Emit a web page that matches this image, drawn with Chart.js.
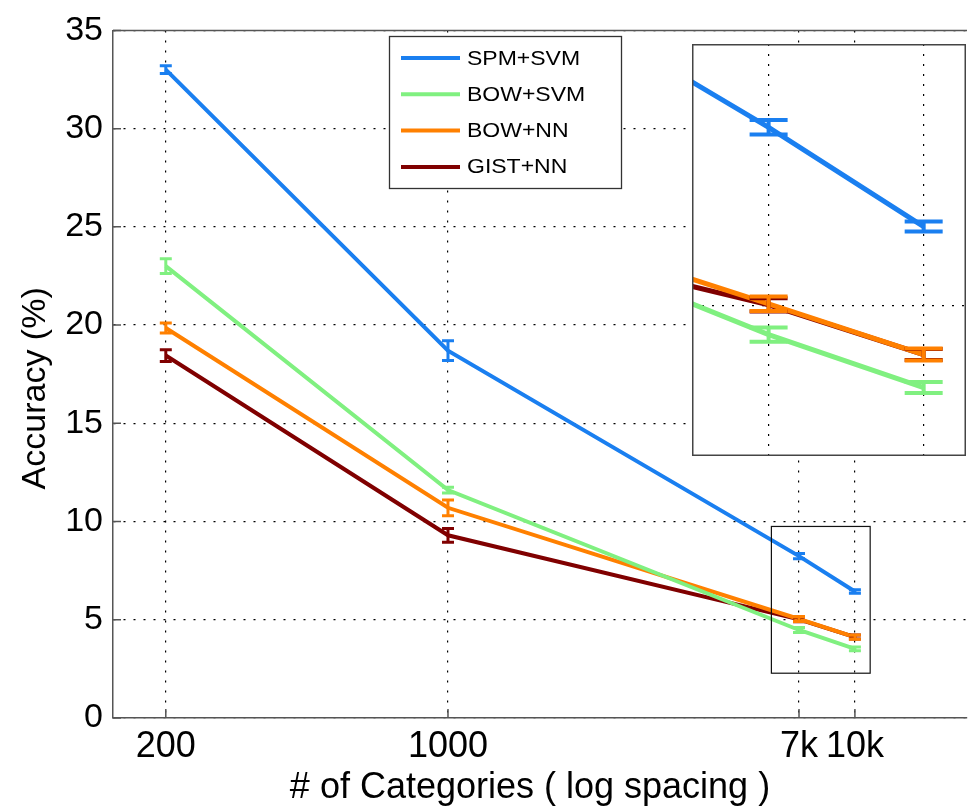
<!DOCTYPE html>
<html>
<head>
<meta charset="utf-8">
<script src="https://cdn.jsdelivr.net/npm/chart.js@4.4.0/dist/chart.umd.min.js"></script>
<style>
  body { margin: 0; background: #fff; }
  #wrap { position: relative; width: 969px; height: 806px; overflow: hidden; }
  #zoomBox { position: absolute; left: 692px; top: 44px; width: 274px; height: 412px; background: #fff; }
</style>
</head>
<body>
<div id="wrap">
  <canvas id="myChart" width="969" height="806"></canvas>
  <div id="zoomBox"><canvas id="zoomChart" width="274" height="412"></canvas></div>
</div>
<script>
// number of categories (ImageNet subsets), shown on a log axis
var xValues = [200, 1000, 7404, 10184];
var xLabels = ["200", "1000", "7k", "10k"];

var seriesNames = ["SPM+SVM", "BOW+SVM", "BOW+NN", "GIST+NN"];
var seriesColors = ["#1a7ff0", "#80f080", "#ff8000", "#800000"];

var spmSvm  = [33.0, 18.7, 8.24, 6.44];
var bowSvm  = [23.0, 11.6, 4.48, 3.52];
var bowNn   = [19.85, 10.7, 5.04, 4.12];
var gistNn  = [18.45, 9.3, 5.02, 4.12];

var spmSvmErr = [0.2, 0.5, 0.13, 0.09];
var bowSvmErr = [0.38, 0.15, 0.13, 0.1];
var bowNnErr  = [0.25, 0.4, 0.13, 0.11];
var gistNnErr = [0.3, 0.35, 0.12, 0.1];

// region shown enlarged in the inset
var zoomX = [6325, 11110];
var zoomY = [2.28, 9.75];
var zoomYTicks = [5];

var allValues = [spmSvm, bowSvm, bowNn, gistNn];
var allErr = [spmSvmErr, bowSvmErr, bowNnErr, gistNnErr];

Chart.defaults.font.family = "'Liberation Sans', Arial, sans-serif";
Chart.defaults.color = "#000";

function makeDatasets(width) {
  return seriesNames.map((name, s) => ({
    label: name,
    data: xValues.map((x, i) => ({ x: x, y: allValues[s][i] })),
    err: allErr[s],
    borderColor: seriesColors[s],
    backgroundColor: seriesColors[s],
    borderWidth: width,
    pointRadius: 0,
    tension: 0,
    fill: false
  }));
}

const errorBars = {
  id: 'errorBars',
  afterDatasetsDraw(chart, args, opts) {
    const ctx = chart.ctx, xs = chart.scales.x, ys = chart.scales.y, a = chart.chartArea;
    ctx.save();
    ctx.beginPath();
    ctx.rect(a.left, a.top, a.right - a.left, a.bottom - a.top);
    ctx.clip();
    for (let d = chart.data.datasets.length - 1; d >= 0; d--) {
      const ds = chart.data.datasets[d];
      ctx.strokeStyle = ds.borderColor;
      ctx.lineWidth = opts.width;
      ds.data.forEach((p, i) => {
        const px = xs.getPixelForValue(p.x);
        const top = ys.getPixelForValue(p.y + ds.err[i]);
        const bot = ys.getPixelForValue(p.y - ds.err[i]);
        ctx.beginPath();
        ctx.moveTo(px, top); ctx.lineTo(px, bot);
        ctx.moveTo(px - opts.cap, top); ctx.lineTo(px + opts.cap, top);
        ctx.moveTo(px - opts.cap, bot); ctx.lineTo(px + opts.cap, bot);
        ctx.stroke();
      });
    }
    ctx.restore();
  }
};

const mainDecor = {
  id: 'mainDecor',
  afterDraw(chart) {
    const ctx = chart.ctx, xs = chart.scales.x, ys = chart.scales.y, a = chart.chartArea;
    ctx.save();
    // top frame line
    ctx.strokeStyle = '#555';
    ctx.lineWidth = 1.5;
    ctx.beginPath();
    ctx.moveTo(a.left, a.top); ctx.lineTo(a.right, a.top);
    ctx.stroke();
    // inward ticks
    ctx.beginPath();
    ys.ticks.forEach(t => {
      const py = ys.getPixelForValue(t.value);
      ctx.moveTo(a.left, py); ctx.lineTo(a.left + 8, py);
    });
    xs.ticks.forEach(t => {
      const px = xs.getPixelForValue(t.value);
      ctx.moveTo(px, a.bottom); ctx.lineTo(px, a.bottom - 9);
    });
    ctx.stroke();
    // small box marking the zoomed region
    const x1 = xs.getPixelForValue(zoomX[0]), x2 = xs.getPixelForValue(zoomX[1]);
    const y1 = ys.getPixelForValue(zoomY[1]), y2 = ys.getPixelForValue(zoomY[0]);
    ctx.strokeStyle = '#111';
    ctx.lineWidth = 1.2;
    ctx.strokeRect(x1, y1, x2 - x1, y2 - y1);

    // legend box
    const L = 389, T = 36, W = 232, H = 152;
    ctx.fillStyle = '#fff';
    ctx.fillRect(L, T, W, H);
    ctx.strokeStyle = '#333';
    ctx.lineWidth = 1.3;
    ctx.strokeRect(L + 0.5, T + 0.5, W, H);
    ctx.font = "20px 'Liberation Sans', Arial, sans-serif";
    ctx.textBaseline = 'middle';
    chart.data.datasets.forEach((ds, i) => {
      const yy = T + 22 + i * 36.3;
      ctx.strokeStyle = ds.borderColor;
      ctx.lineWidth = 4;
      ctx.beginPath();
      ctx.moveTo(L + 12, yy); ctx.lineTo(L + 71, yy);
      ctx.stroke();
      ctx.save();
      ctx.translate(L + 78, yy);
      ctx.scale(1.15, 1);
      ctx.fillStyle = '#000';
      ctx.fillText(ds.label, 0, 1);
      ctx.restore();
    });
    ctx.restore();
  }
};

const insetFrame = {
  id: 'insetFrame',
  afterDraw(chart) {
    const ctx = chart.ctx;
    ctx.save();
    ctx.strokeStyle = '#444';
    ctx.lineWidth = 1.5;
    ctx.strokeRect(0.75, 0.75, chart.width - 1.5, chart.height - 1.5);
    ctx.restore();
  }
};

new Chart("myChart", {
  type: "line",
  data: { datasets: makeDatasets(4) },
  options: {
    responsive: false,
    animation: false,
    layout: { autoPadding: false, padding: { top: 28, right: 2, left: 0, bottom: 0 } },
    plugins: {
      legend: { display: false },
      tooltip: { enabled: false },
      errorBars: { width: 3, cap: 6 }
    },
    scales: {
      x: {
        type: 'logarithmic',
        min: 148, max: 19300,
        afterBuildTicks: s => { s.ticks = xValues.map(v => ({ value: v })); },
        afterFit: s => { s.height = 88; },
        ticks: {
          autoSkip: false, maxRotation: 0, padding: 7,
          font: { size: 36 }, color: '#000',
          callback: (v, i) => xLabels[i]
        },
        grid: { color: '#000', lineWidth: 1.2, drawTicks: false },
        border: { color: '#555', width: 1.5, dash: [2, 8] },
        title: {
          display: true, text: '# of Categories ( log spacing )  ',
          font: { size: 36, lineHeight: 1 }, padding: { top: 0, bottom: 0 }, color: '#000'
        }
      },
      y: {
        min: 0, max: 35,
        afterFit: s => { s.width = 113; },
        ticks: { stepSize: 5, padding: 10, font: { size: 34 }, color: '#000' },
        grid: { color: '#000', lineWidth: 1.2, drawTicks: false },
        border: { color: '#555', width: 1.5, dash: [2, 8] },
        title: {
          display: true, text: 'Accuracy (%)   ',
          font: { size: 34, lineHeight: 1 }, padding: { top: 19, bottom: 0 }, color: '#000'
        }
      }
    }
  },
  plugins: [errorBars, mainDecor]
});

new Chart("zoomChart", {
  type: "line",
  data: { datasets: makeDatasets(5) },
  options: {
    responsive: false,
    animation: false,
    layout: { autoPadding: false, padding: 0 },
    plugins: {
      legend: { display: false },
      tooltip: { enabled: false },
      errorBars: { width: 4, cap: 19 }
    },
    scales: {
      x: {
        type: 'logarithmic',
        min: zoomX[0], max: zoomX[1],
        afterBuildTicks: s => { s.ticks = xValues.filter(v => v > zoomX[0] && v < zoomX[1]).map(v => ({ value: v })); },
        ticks: { display: false },
        grid: { color: '#000', lineWidth: 1.2, drawTicks: false },
        border: { display: false, dash: [2, 8] }
      },
      y: {
        min: zoomY[0], max: zoomY[1],
        afterBuildTicks: s => { s.ticks = zoomYTicks.map(v => ({ value: v })); },
        ticks: { display: false },
        grid: { color: '#000', lineWidth: 1.2, drawTicks: false },
        border: { display: false, dash: [2, 8] }
      }
    }
  },
  plugins: [errorBars, insetFrame]
});
</script>
</body>
</html>
